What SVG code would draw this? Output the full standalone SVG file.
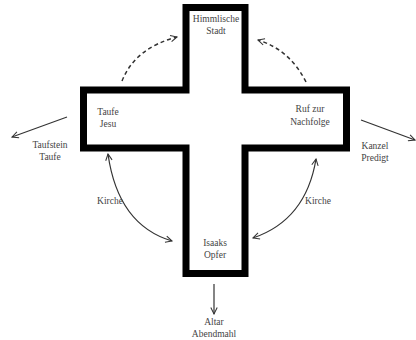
<svg xmlns="http://www.w3.org/2000/svg" width="416" height="340" viewBox="0 0 416 340">
<defs>
<style>
text{font-family:"Liberation Serif","DejaVu Serif",serif;font-size:9.5px;fill:#444;text-anchor:middle}
.c{fill:none;stroke:#333;stroke-width:1.2}
.d{stroke-dasharray:4,3;stroke-width:1.5}
</style>
<marker id="a" viewBox="0 0 10 10" refX="9" refY="5" markerWidth="8" markerHeight="8" orient="auto-start-reverse" markerUnits="userSpaceOnUse">
<path d="M1,1 L9,5 L1,9" fill="none" stroke="#333" stroke-width="1.3"/>
</marker>
</defs>
<rect width="416" height="340" fill="#fff"/>
<g id="cross">
<polygon points="186,7.5 245,7.5 245,90 346.5,90 346.5,148 245,148 245,273.5 186,273.5 186,148 83.5,148 83.5,90 186,90" fill="#fff" stroke="#000" stroke-width="7"/>
</g>
<g id="n-stadt"><text x="216" y="22">Himmlische</text><text x="216" y="34">Stadt</text></g>
<g id="n-taufe"><text x="108" y="115">Taufe</text><text x="108" y="127">Jesu</text></g>
<g id="n-ruf"><text x="310" y="112">Ruf zur</text><text x="310" y="125">Nachfolge</text></g>
<g id="n-isaak"><text x="215" y="246">Isaaks</text><text x="215" y="258">Opfer</text></g>
<g id="n-taufstein"><text x="50" y="148">Taufstein</text><text x="50" y="160">Taufe</text></g>
<g id="n-kanzel"><text x="375" y="149">Kanzel</text><text x="375" y="161">Predigt</text></g>
<g id="n-altar"><text x="214" y="325">Altar</text><text x="214" y="337">Abendmahl</text></g>
<g id="connectors">
<path class="c d" d="M122,81 Q135,48 177,37" marker-end="url(#a)"/>
<path class="c d" d="M306,82 Q290,50 258,40" marker-end="url(#a)"/>
<path class="c" d="M67,117 L12,137" marker-end="url(#a)"/>
<path class="c" d="M361,120 L415,140" marker-end="url(#a)"/>
<path class="c" d="M214,284 L214,314" marker-end="url(#a)"/>
<path class="c" d="M108,154 Q118,225 172,241" marker-start="url(#a)" marker-end="url(#a)"/>
<path class="c" d="M316,159 Q306,220 253,238" marker-start="url(#a)" marker-end="url(#a)"/>
<text x="110" y="204">Kirche</text>
<text x="318" y="204">Kirche</text>
</g>
</svg>
